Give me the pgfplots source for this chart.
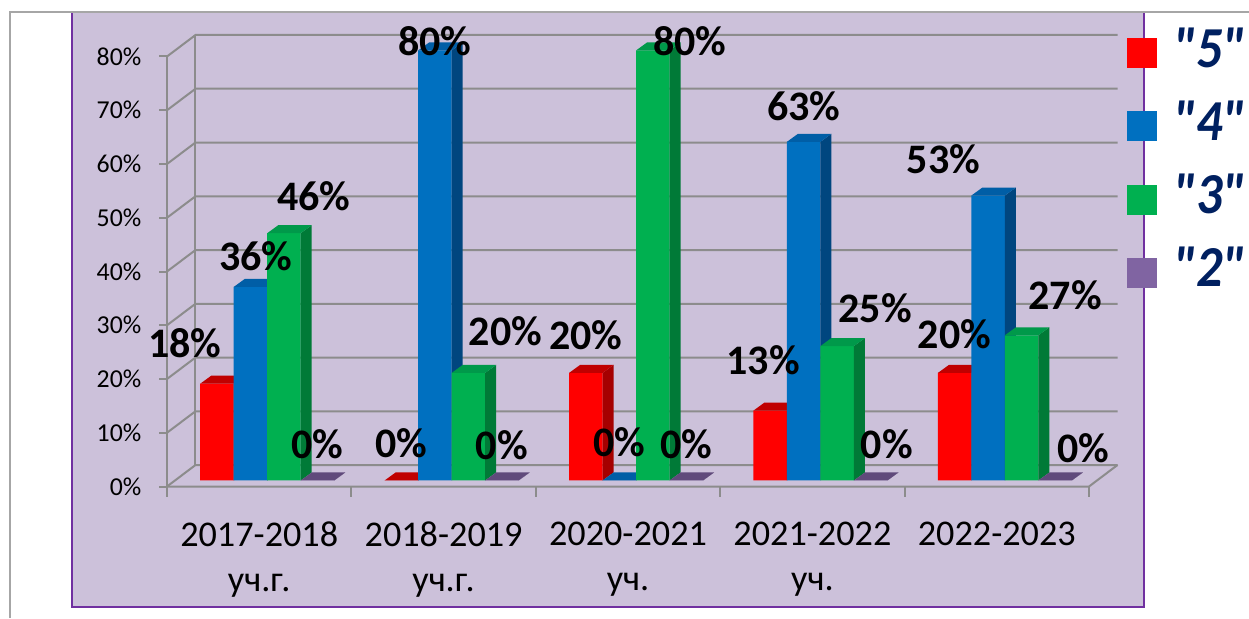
\documentclass[border=0pt]{standalone}
\usepackage{fontspec}
\setmainfont{Carlito}
\newfontfamily\legfam{Carlito}[Ligatures=TeXOff, FakeStretch=0.9]
\usepackage{pgfplots}
\usepackage{pgfplotstable}
\pgfplotsset{compat=1.18}

\definecolor{panelfill}{HTML}{CCC1DA}
\definecolor{panelborder}{HTML}{7030A0}
\definecolor{gridgray}{HTML}{8C8C8C}
\definecolor{outergray}{HTML}{A6A6A6}
\definecolor{red5}{HTML}{FF0000}
\definecolor{red5top}{HTML}{C00000}
\definecolor{red5side}{HTML}{A50000}
\definecolor{blue4}{HTML}{0070C0}
\definecolor{blue4top}{HTML}{005EA6}
\definecolor{blue4side}{HTML}{00467F}
\definecolor{green3}{HTML}{00B050}
\definecolor{green3top}{HTML}{00994A}
\definecolor{green3side}{HTML}{007A37}
\definecolor{purple2}{HTML}{8064A2}
\definecolor{purple2top}{HTML}{604A7B}
\definecolor{purple2side}{HTML}{503D68}
\definecolor{legendblue}{HTML}{002060}

\tikzset{gridline/.style={draw=gridgray, line width=1pt}}

\newcommand\tickfont{\fontsize{12.9pt}{15pt}\selectfont}
\newcommand\xlabfont{\fontsize{18.1pt}{22.5pt}\selectfont}
\newcommand\datafont{\fontsize{21pt}{24pt}\selectfont\bfseries}
\newcommand\legfont{\legfam\fontsize{29pt}{31pt}\selectfont\bfseries\itshape}
\def\lx{0}\def\ly{0}

% values (%) and label offsets (pt)
\pgfplotstableread{
x s5 s4 s3 s2 ax5 ay5 ax4 ay4 ax3 ay3 ax2 ay2
0 18 36 46 0 -16 2 2.75 -2.75 15 0.5 0 0
1 0 80 20 0 0 0.5 0 -13.5 18.5 2.75 0 -0.5
2 20 0 80 0 0 0.5 0 0.75 18.5 -13.5 0 0
3 13 63 25 0 -3.5 6.8 0 -0.5 19 0.5 8 0
4 20 53 27 0 0 1 -22.25 0 21.75 1.7 14 -2
}\datatable

% 3D top and side faces of the bars of one series
\newcommand\barfaces[4]{%
  \pgfplotsforeachungrouped \i in {0,1,2,3,4}{%
    \pgfplotstablegetelem{\i}{#1}\of\datatable
    \pgfmathsetmacro\hh{\pgfplotsretval}%
    \pgfmathsetmacro\hb{\hh+1.49}%
    \pgfmathsetmacro\xl{\i+(#2)-0.09085}%
    \pgfmathsetmacro\xr{\i+(#2)+0.09085}%
    \pgfmathsetmacro\xlb{\xl+0.0597}%
    \pgfmathsetmacro\xrb{\xr+0.0597}%
    \edef\temp{%
      \noexpand\fill[#4] (axis cs:\xr,0) -- (axis cs:\xrb,1.49) -- (axis cs:\xrb,\hb) -- (axis cs:\xr,\hh) -- cycle;
      \noexpand\fill[#3] (axis cs:\xl,\hh) -- (axis cs:\xr,\hh) -- (axis cs:\xrb,\hb) -- (axis cs:\xlb,\hb) -- cycle;}%
    \temp
  }%
}

\pgfplotsset{
  labelplot/.style={draw=none, mark=none, forget plot, point meta=y,
    nodes near coords={\pgfmathprintnumber{\pgfplotspointmeta}\%},
    every node near coord/.append style={font=\datafont, text=black, anchor=south, inner sep=0pt,
      yshift=10.7pt, xshift=\lx pt, yshift=\ly pt}},
  bar3d/.style={ybar, bar width=0.1817, bar shift=#1, draw=none},
  sqlegend/.style={legend image code/.code={\fill[#1] (0pt,-9.75pt) rectangle (15pt,5.25pt);}},
}

\begin{document}
\begin{tikzpicture}
\fill[white] (0,0) rectangle (624.5pt,309pt);
\fill[panelfill] (36pt,5.5pt) rectangle (572pt,303pt);
\draw[panelborder, line width=0.8pt] (572pt,303pt) -- (572pt,5.5pt) -- (36pt,5.5pt) -- (36pt,303pt);
\draw[outergray, line width=0.75pt] (5pt,0pt) -- (5pt,303pt) -- (624.5pt,303pt);

\begin{axis}[
  at={(83.5pt,65.75pt)}, anchor=south west,
  scale only axis, width=475.25pt, height=229.03pt,
  xmin=-0.5, xmax=4.6545, ymin=-1.12, ymax=84.1,
  clip=false,
  axis x line*=bottom, axis y line*=left,
  axis line style={draw=none},
  tick style={draw=none}, major tick length=0pt,
  xtick={0,1,2,3,4},
  xticklabels={{2017-2018\\уч.г.},{2018-2019\\уч.г.},{2020-2021\\уч.},{2021-2022\\уч.},{2022-2023}},
  xticklabel style={anchor=north, inner sep=0pt, align=center, font=\xlabfont, yshift=-17.6pt},
  ytick={-1.12,8.88,18.88,28.88,38.88,48.88,58.88,68.88,78.88},
  yticklabels={0\%,10\%,20\%,30\%,40\%,50\%,60\%,70\%,80\%},
  yticklabel style={anchor=east, inner sep=0pt, font=\tickfont, xshift=-12.65pt},
  /pgf/number format/assume math mode=true,
  legend style={at={(1.010,1.003)}, anchor=north west, draw=none, fill=none, inner sep=0pt,
    column sep=8pt, row sep=15.3pt, font=\legfont, text=legendblue, nodes={inner sep=0pt}},
]
% walls, floor and grid
\pgfplotsforeachungrouped \v in {0,10,...,80}{%
  \pgfmathsetmacro\yf{\v-1.12}%
  \pgfmathsetmacro\yb{\v+2.88}%
  \edef\temp{\noexpand\draw[gridline] (axis cs:-0.5,\yf) -- (axis cs:-0.3455,\yb) -- (axis cs:4.6545,\yb);
    \noexpand\draw[gridline] (axis cs:-0.5,\yf) -- ++(-4pt,0pt);}%
  \temp
}
\draw[gridline] (axis cs:-0.5,-1.12) -- (axis cs:-0.5,78.88);
\draw[gridline] (axis cs:-0.3455,2.88) -- (axis cs:-0.3455,82.88);
\draw[gridline] (axis cs:-0.5,-1.12) -- (axis cs:4.5,-1.12) -- (axis cs:4.6545,2.88);
\pgfplotsinvokeforeach{-0.5,0.5,1.5,2.5,3.5,4.5}{\draw[gridline] (axis cs:#1,-1.12) -- ++(0pt,-5pt);}

% bars
\addplot[bar3d=-0.2291, fill=red5, sqlegend=red5] table[x=x, y=s5] {\datatable};
\addlegendentry{"5"}
\barfaces{s5}{-0.2291}{red5top}{red5side}
\addplot[bar3d=-0.0475, fill=blue4, sqlegend=blue4] table[x=x, y=s4] {\datatable};
\addlegendentry{"4"}
\barfaces{s4}{-0.0475}{blue4top}{blue4side}
\addplot[bar3d=0.1342, fill=green3, sqlegend=green3] table[x=x, y=s3] {\datatable};
\addlegendentry{"3"}
\barfaces{s3}{0.1342}{green3top}{green3side}
\addplot[bar3d=0.3159, fill=purple2, sqlegend=purple2] table[x=x, y=s2] {\datatable};
\addlegendentry{"2"}
\barfaces{s2}{0.3159}{purple2top}{purple2side}

% value labels
\addplot[labelplot,
  visualization depends on={\thisrow{ax5}\as\lx},
  visualization depends on={\thisrow{ay5}\as\ly}]
  table[x expr=\thisrow{x}-0.2291, y=s5] {\datatable};
\addplot[labelplot,
  visualization depends on={\thisrow{ax4}\as\lx},
  visualization depends on={\thisrow{ay4}\as\ly}]
  table[x expr=\thisrow{x}-0.0475, y=s4] {\datatable};
\addplot[labelplot,
  visualization depends on={\thisrow{ax3}\as\lx},
  visualization depends on={\thisrow{ay3}\as\ly}]
  table[x expr=\thisrow{x}+0.1342, y=s3] {\datatable};
\addplot[labelplot,
  visualization depends on={\thisrow{ax2}\as\lx},
  visualization depends on={\thisrow{ay2}\as\ly}]
  table[x expr=\thisrow{x}+0.3159, y=s2] {\datatable};
\end{axis}
\pgfresetboundingbox
\useasboundingbox (0,0) rectangle (624.5pt,309pt);
\end{tikzpicture}
\end{document}
